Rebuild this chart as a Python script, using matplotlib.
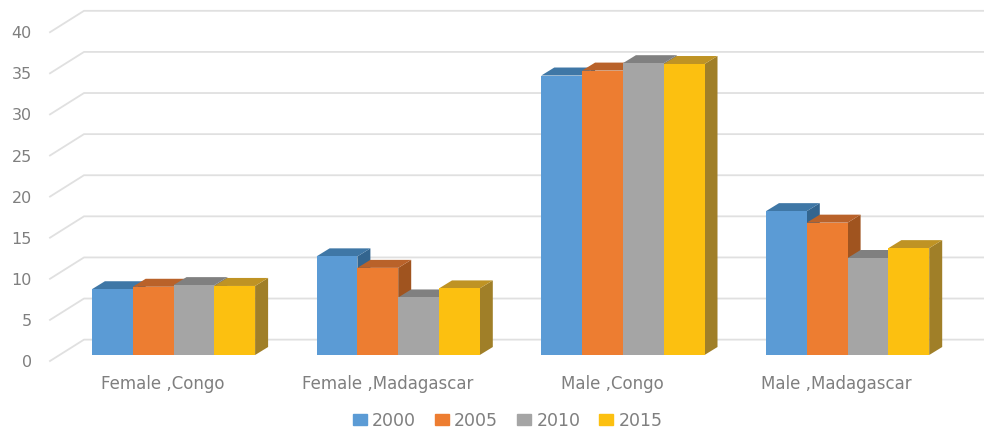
import matplotlib
matplotlib.use("Agg")
import matplotlib.pyplot as plt
from matplotlib.patches import Patch

plt.rcParams["font.family"] = "DejaVu Sans"

categories = ["Female ,Congo", "Female ,Madagascar", "Male ,Congo", "Male ,Madagascar"]
years = ["2000", "2005", "2010", "2015"]
values_2000 = [8.0, 12.0, 34.0, 17.5]
values_2005 = [8.3, 10.6, 34.6, 16.1]
values_2010 = [8.5, 7.0, 35.5, 11.8]
values_2015 = [8.4, 8.1, 35.4, 13.0]
series = [values_2000, values_2005, values_2010, values_2015]
yticks = [0, 5, 10, 15, 20, 25, 30, 35, 40]

front = ["#5b9bd5", "#ed7d31", "#a5a5a5", "#fcc010"]
top = ["#3f77a6", "#b9622a", "#808080", "#bf9324"]
side = ["#33658f", "#a0541f", "#757575", "#a07f28"]
grey = "#7f7f7f"

fig = plt.figure(figsize=(9.84, 4.29), dpi=100)
ax = fig.add_axes([50 / 984, 68 / 429, 934 / 984, 361 / 429])

# one x unit is one category, y is the value on the front face of the bars
x_px = 224.7
y_px = 8.22
ax.set_xlim((50 - 173.5) / x_px, (984 - 173.5) / x_px)
ax.set_ylim(-0.73, 355 / y_px)

# walls: short diagonal on the side wall, then the long line on the back wall
wall_dx = 34 / x_px
wall_dy = 2.6
left = ax.get_xlim()[0]
right = ax.get_xlim()[1]
for v in yticks:
    ax.plot([left, left + wall_dx, right],
            [v - 0.73, v - 0.73 + wall_dy, v - 0.73 + wall_dy],
            color="#e0e0e0", lw=1.3, zorder=1, clip_on=False)

# fake 3d bars, drawn left to right so each front hides the side before it
bar_w = 40.8 / x_px
dx = 13 / x_px
dy = 8 / y_px
for i in range(len(categories)):
    for j in range(len(years)):
        v = series[j][i]
        x0 = i + (j - 2) * bar_w
        x1 = x0 + bar_w
        z = 2 + i + j * 0.1
        ax.fill([x1, x1 + dx, x1 + dx, x1], [0, dy, v + dy, v],
                color=side[j], lw=0, zorder=z)
        ax.fill([x0, x0 + dx, x1 + dx, x1], [v, v + dy, v + dy, v],
                color=top[j], lw=0, zorder=z)
        ax.bar(x0, v, width=bar_w, align="edge", color=front[j], lw=0, zorder=z + 0.01)

ax.set_xticks([i - 11 / x_px for i in range(len(categories))], categories)
ax.set_yticks([v - 0.73 for v in yticks], [str(v) for v in yticks])
ax.tick_params(axis="x", length=0, pad=10, labelsize=12, labelcolor=grey)
ax.tick_params(axis="y", length=0, pad=13, labelsize=11.5, labelcolor=grey)
for s in ax.spines.values():
    s.set_visible(False)

handles = [Patch(color=c, label=y) for c, y in zip(front, years)]
ax.legend(handles=handles, ncol=4, frameon=False, loc="center",
          bbox_to_anchor=(0.49, -0.165), fontsize=12.5, labelcolor=grey,
          handlelength=0.8, handleheight=0.55, handletextpad=0.3, columnspacing=1.1)

fig.savefig("out.png", dpi=100)
